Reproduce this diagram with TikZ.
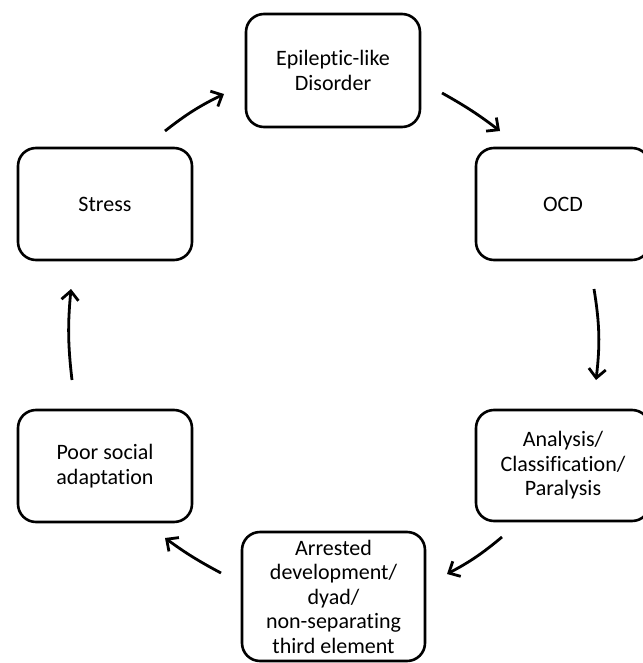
\documentclass[tikz,border=0pt]{standalone}
\usepackage{fontspec}
\setmainfont[Ligatures=NoCommon,RawFeature={-liga}]{Carlito}
\usetikzlibrary{arrows.meta}
\begin{document}
\begin{tikzpicture}[x=1pt,y=-1pt,
  box/.style={draw=black,line width=2.6pt,rounded corners=18pt,align=center,
    font=\fontsize{22}{24.5}\selectfont,inner sep=0pt},
  flow/.style={line width=2.8pt,-{Straight Barb[length=9pt,width=17pt,line width=2.8pt]}}]
\useasboundingbox (0,0) rectangle (642,663);
\node[box,minimum width=174pt,minimum height=113pt] (epi) at (333,70.5) {Epileptic-like\\Disorder};
\node[box,minimum width=174pt,minimum height=112pt] (stress) at (105,204) {Stress};
\node[box,minimum width=174pt,minimum height=112pt] (ocd) at (563,204) {OCD};
\node[box,minimum width=174pt,minimum height=112pt] (poor) at (105,466) {Poor social\\adaptation};
\node[box,minimum width=174pt,minimum height=111pt] (ana) at (563,465.5) {Analysis/\\Classification/\\Paralysis};
\node[box,minimum width=183pt,minimum height=129pt] (arr) at (333.5,596.5) {Arrested\\development/\\dyad/\\non-separating\\third element};
\coordinate (a1s) at (165,131); \coordinate (a1e) at (224,94);
\coordinate (a2s) at (442,93);  \coordinate (a2e) at (500,131);
\coordinate (a3s) at (594,289); \coordinate (a3e) at (596,380);
\coordinate (a4s) at (502,537); \coordinate (a4e) at (447,574);
\coordinate (a5s) at (221,573); \coordinate (a5e) at (165,538);
\coordinate (a6s) at (72,380);  \coordinate (a6e) at (71,289);
\draw[flow] (a1s) to[bend left=6] (a1e);
\draw[flow] (a2s) to[bend left=4] (a2e);
\draw[flow] (a3s) to[bend left=8] (a3e);
\draw[flow] (a4s) to[bend left=6] (a4e);
\draw[flow] (a5s) to[bend left=4] (a5e);
\draw[flow] (a6s) to[bend left=6] (a6e);
\end{tikzpicture}
\end{document}
